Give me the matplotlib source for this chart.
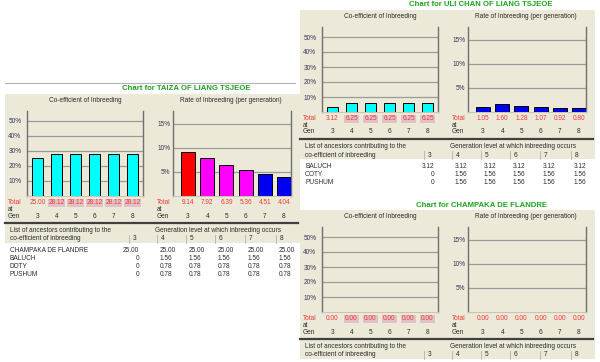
import matplotlib
matplotlib.use("Agg")
import matplotlib.pyplot as plt
from matplotlib.patches import Rectangle
from matplotlib.lines import Line2D
from matplotlib.transforms import blended_transform_factory

# ---- data ----
gens = [3, 4, 5, 6, 7, 8]

taiza_name = "TAIZA OF LIANG TSJEOE"
taiza_coef = [25.00, 28.12, 28.12, 28.12, 28.12, 28.12]
taiza_rate = [9.14, 7.92, 6.39, 5.36, 4.51, 4.04]
taiza_ancestors = ["CHAMPAKA DE FLANDRE", "BALUCH", "DOTY", "PUSHUM"]
taiza_contrib = [[25.00, 25.00, 25.00, 25.00, 25.00, 25.00],
                 [0, 1.56, 1.56, 1.56, 1.56, 1.56],
                 [0, 0.78, 0.78, 0.78, 0.78, 0.78],
                 [0, 0.78, 0.78, 0.78, 0.78, 0.78]]

uli_name = "ULI CHAN OF LIANG TSJEOE"
uli_coef = [3.12, 6.25, 6.25, 6.25, 6.25, 6.25]
uli_rate = [1.05, 1.60, 1.28, 1.07, 0.92, 0.80]
uli_ancestors = ["BALUCH", "OOTY", "PUSHUM"]
uli_contrib = [[3.12, 3.12, 3.12, 3.12, 3.12, 3.12],
               [0, 1.56, 1.56, 1.56, 1.56, 1.56],
               [0, 1.56, 1.56, 1.56, 1.56, 1.56]]

champ_name = "CHAMPAKA DE FLANDRE"
champ_coef = [0, 0, 0, 0, 0, 0]
champ_rate = [0, 0, 0, 0, 0, 0]
champ_ancestors = []
champ_contrib = []

coef_ticks = [10, 20, 30, 40, 50]
rate_ticks = [5, 10, 15]

# ---- styling ----
W, H = 600, 362
BEIGE = "#ECE9D8"
GREEN = "#1FA21F"
RED_TXT = "#F03838"
DARK = "#2A2A2A"
FONT = ["Liberation Sans Narrow", "Liberation Sans", "DejaVu Sans"]
FS = 4.7

plt.rcParams["font.family"] = FONT

fig = plt.figure(figsize=(6, 3.62), dpi=100)


def fx(x):
    return x / W


def fy(y):
    return 1 - y / H


def ptext(x, y, s, **kw):
    kw.setdefault("va", "center")
    kw.setdefault("fontsize", FS)
    kw.setdefault("color", DARK)
    fig.text(fx(x), fy(y), s, **kw)


def rate_color(v):
    if v >= 8:
        return "#FF0000"
    if v >= 5:
        return "#FF00FF"
    return "#0000F0"


def draw_chart(xl, xr, first, step, barw, ty, values, colors, ticks, top,
               lab_x, highlight, pad):
    ax = fig.add_axes([fx(xl), fy(ty + 107), (xr - xl) / W, 85 / H])
    ax.set_facecolor(BEIGE)
    ax.set_xlim(-(first - xl) / step, (xr - first) / step)
    ax.set_ylim(0, top)
    idx = [i for i, v in enumerate(values) if v > 0]
    ax.bar(idx, [values[i] for i in idx], width=barw / step,
           color=[colors[i] for i in idx], edgecolor="black", linewidth=0.7,
           zorder=3)
    ax.set_xticks([])
    ax.set_yticks(ticks)
    ax.set_yticklabels([f"{t}%" for t in ticks])
    ax.tick_params(axis="y", length=0, pad=pad, labelsize=FS,
                   labelcolor="#3A3A5A")
    ax.grid(axis="y", color="#9A9A9A", linewidth=0.9)
    ax.set_axisbelow(True)
    for s in ["left", "right"]:
        ax.spines[s].set_color("#707070")
        ax.spines[s].set_linewidth(1.0)
    ax.spines["top"].set_visible(False)
    ax.spines["bottom"].set_color("#C9C5B5")

    tr = blended_transform_factory(ax.transData, fig.transFigure)
    for i, (g, v) in enumerate(zip(gens, values)):
        bb = None
        if highlight and i > 0:
            bb = dict(boxstyle="square,pad=0.12", fc="#E2C2C6", ec="none")
        ax.text(i, fy(ty + 114), f"{v:.2f}", transform=tr, ha="center",
                va="center", fontsize=FS, color=RED_TXT, bbox=bb)
        ax.text(i, fy(ty + 127), str(g), transform=tr, ha="center",
                va="center", fontsize=FS, color=DARK)
    ptext(lab_x, ty + 114, "Total", color=RED_TXT)
    ptext(lab_x, ty + 120.5, "at")
    ptext(lab_x, ty + 127, "Gen")


def draw_panel(x0, ty, name, coef, rate, ancestors, contrib):
    right = min(x0 + 300, W)
    fig.add_artist(Rectangle((fx(x0 + 5), fy(ty + 154)), (right - x0 - 5) / W,
                             149 / H, transform=fig.transFigure, fc=BEIGE,
                             ec="none", zorder=-5))
    ptext(x0 + 186, ty, "Chart for " + name, ha="center", color=GREEN,
          fontweight="bold", fontsize=5.6)
    ptext(x0 + 85, ty + 11, "Co-efficient of Inbreeding", ha="center")
    ptext(x0 + 231, ty + 11, "Rate of Inbreeding (per generation)",
          ha="center")

    draw_chart(x0 + 27, x0 + 143, x0 + 37.5, 19, 11, ty, coef,
               ["#00FFFF"] * 6, coef_ticks, 85 / 15 * 10, x0 + 8, True, 4)
    draw_chart(x0 + 173, x0 + 291, x0 + 188, 19.2, 14, ty, rate,
               [rate_color(v) for v in rate], rate_ticks, 85 / 24 * 5,
               x0 + 157, False, 2)

    # table below the charts
    fig.add_artist(Line2D([fx(x0 + 5), fx(right - 2)], [fy(ty + 134)] * 2,
                          color="#404040", linewidth=1.6))
    ptext(x0 + 10, ty + 141, "List of ancestors contributing to the")
    ptext(x0 + 155, ty + 141, "Generation level at which inbreeding occurs")
    ptext(x0 + 10, ty + 150, "co-efficient of inbreeding")
    cols = [133, 161, 190, 219, 249, 280]
    for c, g in zip(cols, gens):
        ptext(x0 + c, ty + 150, str(g))
        fig.add_artist(Line2D([fx(x0 + c - 4)] * 2, [fy(ty + 146), fy(ty + 154)],
                              color="#B8B4A4", linewidth=0.6))
    for r, (anc, vals) in enumerate(zip(ancestors, contrib)):
        y = ty + 161 + 8.3 * r
        ptext(x0 + 10, y, anc)
        for j, (c, v) in enumerate(zip(cols, vals)):
            s = "0" if v == 0 else f"{v:.2f}"
            if j == 0:
                ptext(x0 + c + 6, y, s, ha="right")
            else:
                ptext(x0 + c - 1, y, s)


# thin rule above the first screenshot
fig.add_artist(Line2D([fx(5), fx(295)], [fy(83)] * 2, color="#B4B4B4",
                      linewidth=0.8))

draw_panel(0, 89, taiza_name, taiza_coef, taiza_rate, taiza_ancestors,
           taiza_contrib)
draw_panel(295, 5, uli_name, uli_coef, uli_rate, uli_ancestors, uli_contrib)
draw_panel(295, 205, champ_name, champ_coef, champ_rate, champ_ancestors,
           champ_contrib)

fig.savefig("out.png", dpi=100, facecolor="white")
